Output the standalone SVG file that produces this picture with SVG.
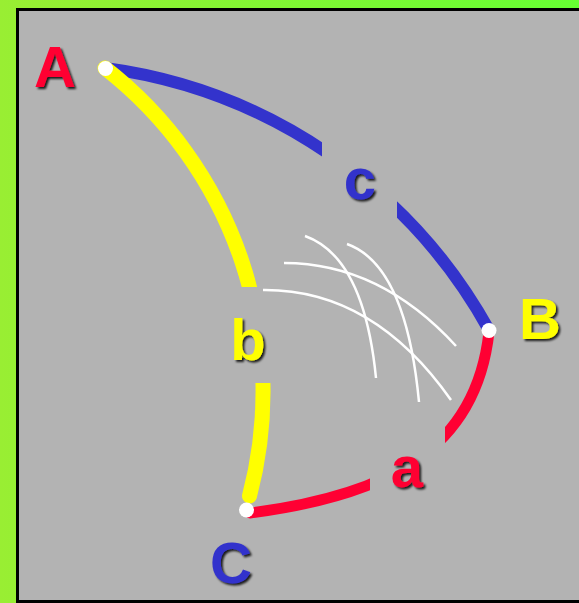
<svg xmlns="http://www.w3.org/2000/svg" width="579" height="603" viewBox="0 0 579 603">
<defs>
<linearGradient id="bg" x1="0" y1="0" x2="1" y2="0">
<stop offset="0" stop-color="#99ee33"/>
<stop offset="1" stop-color="#66ff33"/>
</linearGradient>
<filter id="sh" x="-30%" y="-30%" width="160%" height="160%">
<feDropShadow dx="2" dy="2" stdDeviation="1.2" flood-color="#000" flood-opacity="0.85"/>
</filter>
<style>
.arc{fill:none;stroke-linecap:round}
.gap{fill:#b3b3b3;stroke:none}
.wl{fill:none;stroke:#fff;stroke-width:2.5}
.dot{fill:#fff}
.lbl{font-family:"Liberation Sans",Arial,sans-serif;font-weight:bold;font-size:58px;text-anchor:middle;filter:url(#sh)}
</style>
</defs>
<rect x="0" y="0" width="579" height="603" fill="url(#bg)"/>
<rect x="17.5" y="9.5" width="600" height="592" fill="#b3b3b3" stroke="#000" stroke-width="3"/>
<g id="connectors">
<path id="arc-c" class="arc" d="M105,68 A517,517 0 0 1 489,330" stroke="#3333cc" stroke-width="12"/>
<path id="arc-b" class="arc" d="M105,68 A410,410 0 0 1 249.5,496" stroke="#ffff00" stroke-width="15"/>
<path id="arc-a" class="arc" d="M489,332 C475.8,452 385,495.5 250,513" stroke="#ff0033" stroke-width="11"/>
<rect class="gap" x="322" y="130" width="75" height="95"/>
<rect class="gap" x="225" y="287" width="50" height="96"/>
<rect class="gap" x="370" y="422" width="75" height="80"/>
<g id="angle-marks">
<path class="wl" d="M284,263 Q380,263 456,346"/>
<path class="wl" d="M263,290 Q373,289 451,400"/>
<path class="wl" d="M305,236 Q364,257 376,378"/>
<path class="wl" d="M347,244 Q406,265 419,402"/>
</g>
</g>
<g id="node-A">
<circle class="dot" cx="105.5" cy="68.5" r="7.5"/>
<text class="lbl" x="55" y="87" fill="#ff0033">A</text>
</g>
<g id="node-B">
<circle class="dot" cx="489" cy="330.5" r="7.5"/>
<text class="lbl" x="540" y="339" fill="#ffff00">B</text>
</g>
<g id="node-C">
<circle class="dot" cx="246.5" cy="510" r="7.5"/>
<text class="lbl" x="231" y="583" fill="#3333cc">C</text>
</g>
<g id="label-a"><text class="lbl" x="407" y="487" fill="#ff0033">a</text></g>
<g id="label-b"><text class="lbl" x="248" y="360" fill="#ffff00">b</text></g>
<g id="label-c"><text class="lbl" x="360" y="199" fill="#3333cc">c</text></g>
</svg>
